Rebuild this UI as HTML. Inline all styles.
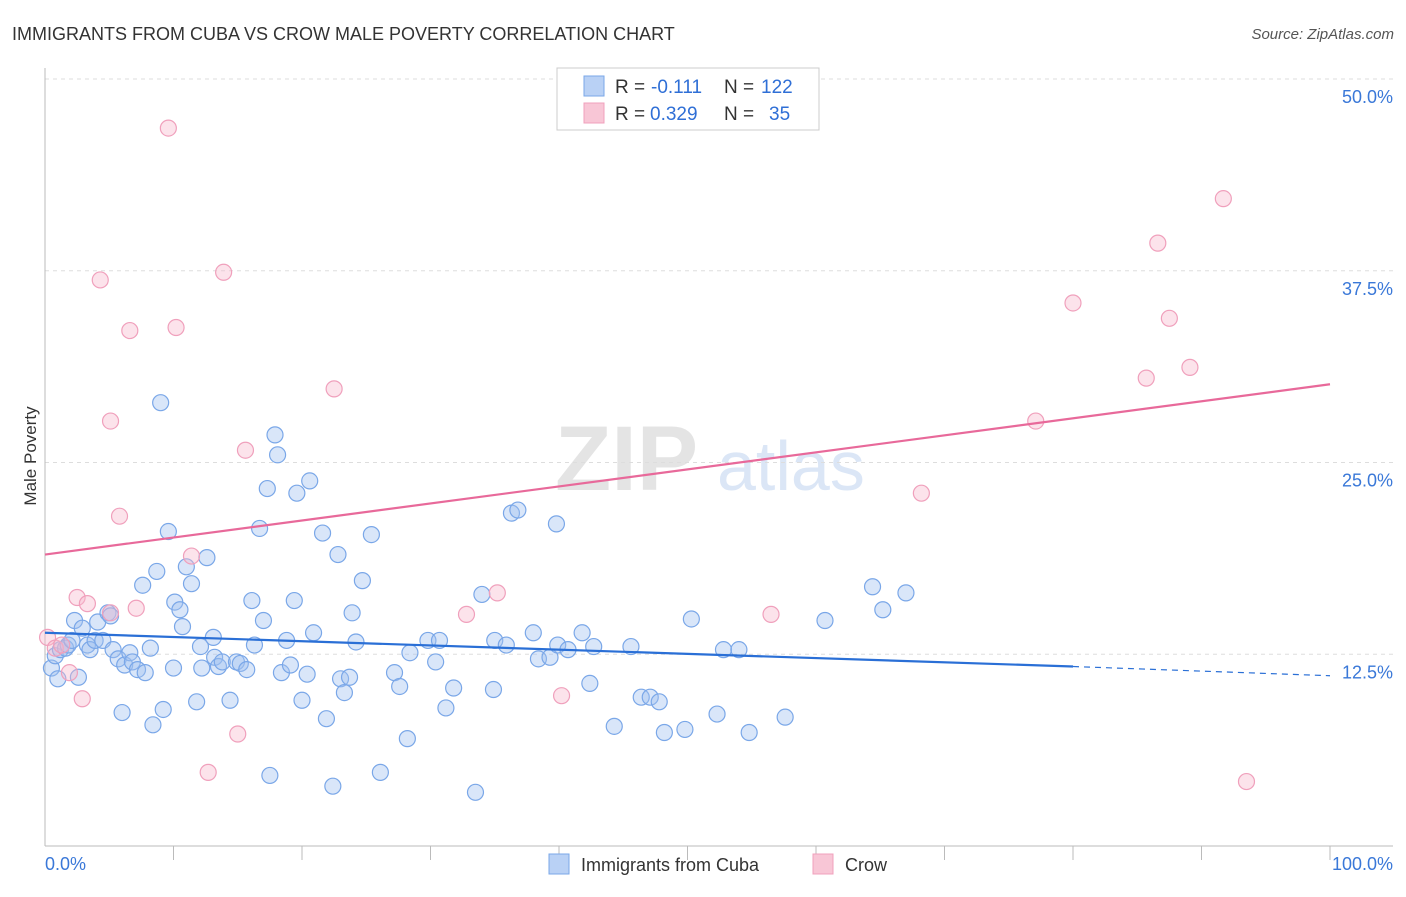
<!DOCTYPE html>
<html><head><meta charset="utf-8"><style>
body{margin:0;background:#fff;font-family:"Liberation Sans",sans-serif;}
svg text{font-family:"Liberation Sans",sans-serif;}
</style></head><body>
<svg id="c" width="1406" height="892">
<text x="12" y="40" font-size="18" fill="#333">IMMIGRANTS FROM CUBA VS CROW MALE POVERTY CORRELATION CHART</text>
<text x="1394" y="39" font-size="15" fill="#555" font-style="italic" text-anchor="end">Source: ZipAtlas.com</text>
<text x="36" y="456" font-size="17" fill="#333" text-anchor="middle" transform="rotate(-90 36 456)">Male Poverty</text>
<g><text x="555" y="490" font-size="92" fill="#e4e4e4" font-family="Liberation Serif,serif" font-weight="bold">ZIP</text><text x="717" y="490" font-size="70" fill="#dbe6f6">atlas</text></g>
<g id="grid"></g><g id="axes"></g><g id="pts"></g><g id="trend"></g>
<g>
<rect x="557" y="68" width="262" height="62" fill="#fff" stroke="#ccc"/>
<rect x="584" y="76" width="20" height="20" fill="#b9d1f5" stroke="#7aa7e8"/>
<rect x="584" y="103" width="20" height="20" fill="#f8c6d6" stroke="#f0a0bc"/>
<text x="615" y="93" font-size="19" fill="#333">R =</text>
<text x="651" y="93" font-size="19" fill="#2f6fd6">-0.111</text>
<text x="724" y="93" font-size="19" fill="#333">N =</text>
<text x="761" y="93" font-size="19" fill="#2f6fd6">122</text>
<text x="615" y="120" font-size="19" fill="#333">R =</text>
<text x="650" y="120" font-size="19" fill="#2f6fd6">0.329</text>
<text x="724" y="120" font-size="19" fill="#333">N =</text>
<text x="769" y="120" font-size="19" fill="#2f6fd6">35</text>
</g>
<g>
<rect x="549" y="854" width="20" height="20" fill="#b9d1f5" stroke="#7aa7e8"/>
<text x="581" y="871" font-size="18" fill="#333">Immigrants from Cuba</text>
<rect x="813" y="854" width="20" height="20" fill="#f8c6d6" stroke="#f0a0bc"/>
<text x="845" y="871" font-size="18" fill="#333">Crow</text>
</g>
</svg>
<script>
const yTicks=[12.5,25,37.5,50];
const yTickLabels=["12.5%","25.0%","37.5%","50.0%"];
const cubaX=[0.5,0.8,1.0,1.2,1.6,1.8,2.1,2.3,2.6,2.9,3.3,3.5,3.9,4.1,4.5,4.9,5.1,5.3,5.7,6.0,6.2,6.6,6.8,7.2,7.6,7.8,8.2,8.4,8.7,9.0,9.2,9.6,10.0,10.1,10.5,10.7,11.0,11.4,11.8,12.1,12.2,12.6,13.1,13.2,13.5,13.8,14.4,14.9,15.2,15.7,16.1,16.3,16.7,17.0,17.3,17.5,17.9,18.1,18.4,18.8,19.1,19.4,19.6,20.0,20.4,20.6,20.9,21.6,21.9,22.4,22.8,23.0,23.3,23.7,23.9,24.2,24.7,25.4,26.1,27.2,27.6,28.2,28.4,29.8,30.4,30.7,31.2,31.8,33.5,34.0,34.9,35.0,35.9,36.3,36.8,38.0,38.4,39.3,39.8,39.9,40.7,41.8,42.4,42.7,44.3,45.6,46.4,47.1,47.8,48.2,49.8,50.3,52.3,52.8,54.0,54.8,57.6,60.7,64.4,65.2,67.0];
const cubaY=[11.6,12.4,10.9,12.8,12.9,13.1,13.4,14.7,11.0,14.2,13.1,12.8,13.4,14.6,13.4,15.2,15.0,12.8,12.2,8.7,11.8,12.6,12.0,11.5,17.0,11.3,12.9,7.9,17.9,28.9,8.9,20.5,11.6,15.9,15.4,14.3,18.2,17.1,9.4,13.0,11.6,18.8,13.6,12.3,11.7,12.0,9.5,12.0,11.9,11.5,16.0,13.1,20.7,14.7,23.3,4.6,26.8,25.5,11.3,13.4,11.8,16.0,23.0,9.5,11.2,23.8,13.9,20.4,8.3,3.9,19.0,10.9,10.0,11.0,15.2,13.3,17.3,20.3,4.8,11.3,10.4,7.0,12.6,13.4,12.0,13.4,9.0,10.3,3.5,16.4,10.2,13.4,13.1,21.7,21.9,13.9,12.2,12.3,21.0,13.1,12.8,13.9,10.6,13.0,7.8,13.0,9.7,9.7,9.4,7.4,7.6,14.8,8.6,12.8,12.8,7.4,8.4,14.7,16.9,15.4,16.5];
const crowX=[0.2,0.8,1.3,1.9,2.5,2.9,3.3,4.3,5.1,5.1,5.8,6.6,7.1,9.6,10.2,11.4,12.7,13.9,15.0,15.6,22.5,32.8,35.2,40.2,56.5,68.2,77.1,80.0,85.7,86.6,87.5,89.1,91.7,93.5];
const crowY=[13.6,12.9,13.1,11.3,16.2,9.6,15.8,36.9,27.7,15.2,21.5,33.6,15.5,46.8,33.8,18.9,4.8,37.4,7.3,25.8,29.8,15.1,16.5,9.8,15.1,23.0,27.7,35.4,30.5,39.3,34.4,31.2,42.2,4.2];
const cubaTrend=[13.9,11.7,11.1]; // at x=0, 80, 100
const crowTrend=[19.0,30.1]; // at x=0, 100
const NS="http://www.w3.org/2000/svg";
const X0=45,X1=1330,YB=846,YT=79;
const sx=v=>X0+(X1-X0)*v/100, sy=v=>YB-(YB-YT)*v/50;
function mk(tag,attrs,parent){const e=document.createElementNS(NS,tag);for(const k in attrs)e.setAttribute(k,attrs[k]);document.getElementById(parent).appendChild(e);return e;}
yTicks.forEach((t,i)=>{
 const l=mk('line',{x1:X0,x2:1393,y1:sy(t),y2:sy(t),stroke:'#ddd','stroke-dasharray':'4,4'},'grid');
 
 
 const tx=mk('text',{x:1393,y:sy(t)+24,'font-size':18,fill:'#3a78d8','text-anchor':'end'},'grid');
 tx.textContent=yTickLabels[i];
 
 
});
let a=mk('line',{x1:X0,x2:X0,y1:68,y2:YB,stroke:'#bbb'},'axes');


a=mk('line',{x1:X0,x2:1393,y1:YB,y2:YB,stroke:'#bbb'},'axes');


for(let i=1;i<=10;i++){const t=mk('line',{x1:sx(i*10),x2:sx(i*10),y1:YB,y2:YB+14,stroke:'#bbb'},'axes');
 
 }
let t=mk('text',{x:45,y:870,'font-size':18,fill:'#3a78d8'},'axes');t.textContent='0.0%';


t=mk('text',{x:1393,y:870,'font-size':18,fill:'#3a78d8','text-anchor':'end'},'axes');t.textContent='100.0%';


cubaX.forEach((x,i)=>{const c=mk('circle',{cx:sx(x),cy:sy(cubaY[i]),r:8,fill:'rgba(160,192,240,0.4)',stroke:'#7aa7e8','stroke-width':1.2},'pts');
 
 });
crowX.forEach((x,i)=>{const c=mk('circle',{cx:sx(x),cy:sy(crowY[i]),r:8,fill:'rgba(248,185,205,0.4)',stroke:'#f0a0bc','stroke-width':1.2},'pts');
 
 });
let tl=mk('line',{x1:sx(0),y1:sy(cubaTrend[0]),x2:sx(80),y2:sy(cubaTrend[1]),stroke:'#2a6fd6','stroke-width':2.2},'trend');


tl=mk('line',{x1:sx(80),y1:sy(cubaTrend[1]),x2:sx(100),y2:sy(cubaTrend[2]),stroke:'#2a6fd6','stroke-width':1.2,'stroke-dasharray':'6,5'},'trend');


tl=mk('line',{x1:sx(0),y1:sy(crowTrend[0]),x2:sx(100),y2:sy(crowTrend[1]),stroke:'#e8699a','stroke-width':2.2},'trend');


</script>
</body></html>
